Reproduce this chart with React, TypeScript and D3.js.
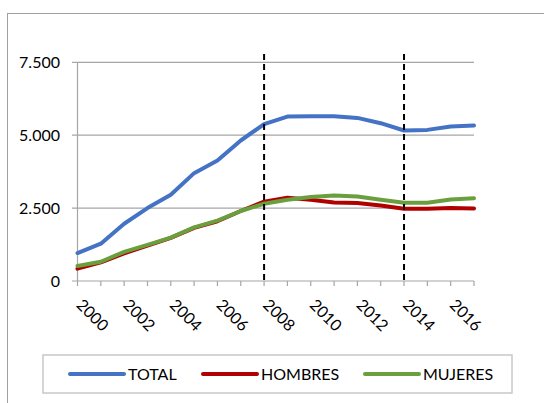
import React, { useEffect, useRef } from "react";
import * as d3 from "d3";

const years = d3.range(2000, 2018);
const yearLabels = [2000, 2002, 2004, 2006, 2008, 2010, 2012, 2014, 2016];
const yTicks = [0, 2500, 5000, 7500];
const markerYears = [2008, 2014];

const total = [959, 1279, 1963, 2500, 2957, 3699, 4132, 4818, 5380, 5640, 5650, 5650, 5593, 5411, 5161, 5182, 5298, 5332];
const hombres = [425, 640, 950, 1210, 1480, 1820, 2050, 2400, 2720, 2856, 2788, 2695, 2671, 2592, 2479, 2479, 2500, 2490];
const mujeres = [514, 660, 1000, 1240, 1490, 1840, 2070, 2400, 2650, 2788, 2877, 2935, 2900, 2788, 2685, 2685, 2797, 2840];

const seriesNames = ["TOTAL", "HOMBRES", "MUJERES"];
const seriesColors = ["#4472C4", "#B00000", "#6A9F3E"];

const W = 544;
const H = 403;
const FONT = "Lato, 'Open Sans', sans-serif";

const App = () => {
    const svgRef = useRef<SVGSVGElement>(null);

    useEffect(() => {
        const svg = d3.select(svgRef.current);
        svg.selectAll("*").remove();

        const series = [total, hombres, mujeres].map((vals, i) => ({
            name: seriesNames[i],
            color: seriesColors[i],
            values: vals,
        }));

        const x = d3.scaleLinear().domain([2000, 2017]).range([77.5, 474]);
        const y = d3.scaleLinear().domain([0, 7500]).range([281, 62.3]);

        // outer chart border
        svg.append("rect")
            .attr("x", 7.5)
            .attr("y", 13.5)
            .attr("width", W + 20)
            .attr("height", H + 20)
            .attr("fill", "none")
            .attr("stroke", "#a0a0a0")
            .attr("stroke-width", 1);

        // gridlines + y ticks
        svg.append("g")
            .selectAll("line")
            .data(yTicks)
            .join("line")
            .attr("x1", 72)
            .attr("x2", x(2017))
            .attr("y1", (d) => y(d))
            .attr("y2", (d) => y(d))
            .attr("stroke", "#a6a6a6")
            .attr("stroke-width", 1.2);

        svg.append("g")
            .attr("font-family", FONT)
            .attr("font-size", 16)
            .attr("fill", "#000")
            .selectAll("text")
            .data(yTicks)
            .join("text")
            .attr("x", 60)
            .attr("y", (d) => y(d))
            .attr("dy", "0.36em")
            .attr("text-anchor", "end")
            .text((d) => (d === 0 ? "0" : d3.format(",")(d).replace(",", ".")));

        // y axis line
        svg.append("line")
            .attr("x1", x(2000))
            .attr("x2", x(2000))
            .attr("y1", y(7500))
            .attr("y2", y(0))
            .attr("stroke", "#a6a6a6")
            .attr("stroke-width", 1.2);

        // x axis ticks
        svg.append("g")
            .selectAll("line")
            .data(years)
            .join("line")
            .attr("x1", (d) => x(d))
            .attr("x2", (d) => x(d))
            .attr("y1", y(0))
            .attr("y2", y(0) + 5)
            .attr("stroke", "#a6a6a6")
            .attr("stroke-width", 1.2);

        // year labels, rotated
        svg.append("g")
            .attr("font-family", FONT)
            .attr("font-size", 16)
            .attr("fill", "#000")
            .selectAll("text")
            .data(yearLabels)
            .join("text")
            .attr("transform", (d) => `translate(${x(d) - 2},${306}) rotate(45)`)
            .attr("text-anchor", "start")
            .text((d) => d);

        // lines
        const line = d3
            .line<number>()
            .x((_, i) => x(years[i]))
            .y((d) => y(d));

        svg.append("g")
            .attr("fill", "none")
            .attr("stroke-width", 4)
            .attr("stroke-linejoin", "round")
            .attr("stroke-linecap", "round")
            .selectAll("path")
            .data(series)
            .join("path")
            .attr("stroke", (d) => d.color)
            .attr("d", (d) => line(d.values));

        // dashed markers
        svg.append("g")
            .selectAll("line")
            .data(markerYears)
            .join("line")
            .attr("x1", (d) => x(d))
            .attr("x2", (d) => x(d))
            .attr("y1", 54)
            .attr("y2", y(0))
            .attr("stroke", "#000")
            .attr("stroke-width", 2)
            .attr("stroke-dasharray", "6,4");

        // legend
        const legend = svg.append("g");
        legend.append("rect")
            .attr("x", 43)
            .attr("y", 355)
            .attr("width", 469)
            .attr("height", 38)
            .attr("fill", "#fff")
            .attr("stroke", "#c8c8c8")
            .attr("stroke-width", 1.5);

        const legendX = [70, 203, 365];
        const item = legend
            .selectAll("g")
            .data(series)
            .join("g")
            .attr("transform", (_, i) => `translate(${legendX[i]},374)`);

        item.append("line")
            .attr("x1", 0)
            .attr("x2", 54)
            .attr("stroke", (d) => d.color)
            .attr("stroke-width", 4)
            .attr("stroke-linecap", "round");

        item.append("text")
            .attr("x", 58)
            .attr("dy", "0.36em")
            .attr("font-family", FONT)
            .attr("font-size", 16)
            .attr("fill", "#000")
            .text((d) => d.name);
    }, []);

    return (
        <div>
            <svg
                ref={svgRef}
                width={W}
                height={H}
                style={{ position: "absolute", left: 0, top: 0, background: "#fff" }}
            />
        </div>
    );
};

export default App;
